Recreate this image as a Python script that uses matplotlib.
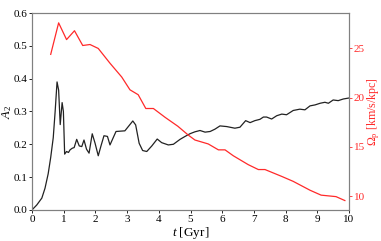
import numpy as np
import matplotlib
matplotlib.use('Agg')
import matplotlib.pyplot as plt

plt.rcParams['font.family'] = 'Liberation Serif'
plt.rcParams['mathtext.fontset'] = 'custom'
plt.rcParams['mathtext.rm'] = 'Liberation Serif'
plt.rcParams['mathtext.it'] = 'Liberation Serif:italic'
plt.rcParams['font.size'] = 8

# bar amplitude A2 vs time
t_a2 = [0.0, 0.15, 0.31, 0.41, 0.51, 0.59, 0.67, 0.73, 0.79, 0.84, 0.89, 0.95, 0.99,
        1.03, 1.09, 1.15, 1.20, 1.27, 1.33, 1.41, 1.49, 1.57, 1.64, 1.72, 1.80, 1.90,
        1.99, 2.09, 2.17, 2.27, 2.38, 2.46, 2.65, 2.93, 3.18, 3.27, 3.38, 3.49, 3.62,
        3.78, 3.95, 4.09, 4.30, 4.46, 4.67, 4.83, 4.98, 5.14, 5.30, 5.46, 5.62, 5.77,
        5.93, 6.14, 6.40, 6.56, 6.74, 6.88, 7.03, 7.19, 7.30, 7.40, 7.56, 7.72, 7.88,
        8.03, 8.24, 8.45, 8.61, 8.77, 8.93, 9.09, 9.24, 9.35, 9.50, 9.66, 9.82, 10.0]
a2 = [0.0, 0.015, 0.036, 0.066, 0.11, 0.16, 0.22, 0.30, 0.39, 0.365, 0.26, 0.327, 0.30,
      0.17, 0.178, 0.175, 0.183, 0.188, 0.19, 0.215, 0.195, 0.193, 0.213, 0.185, 0.173, 0.232,
      0.203, 0.165, 0.193, 0.226, 0.224, 0.198, 0.239, 0.241, 0.271, 0.259, 0.203, 0.181, 0.178,
      0.195, 0.216, 0.205, 0.198, 0.200, 0.215, 0.224, 0.232, 0.238, 0.242, 0.237, 0.239, 0.246,
      0.256, 0.254, 0.249, 0.252, 0.272, 0.266, 0.272, 0.276, 0.283, 0.283, 0.277, 0.287, 0.292,
      0.290, 0.303, 0.307, 0.305, 0.317, 0.320, 0.325, 0.328, 0.325, 0.335, 0.333, 0.338, 0.341]

# pattern speed
t_om = [0.59, 0.84, 1.09, 1.34, 1.60, 1.83, 2.09, 2.46, 2.83, 3.09, 3.35, 3.59, 3.83,
        4.20, 4.60, 4.93, 5.14, 5.56, 5.88, 6.09, 6.35, 6.82, 7.14, 7.35, 7.88, 8.24,
        8.77, 9.12, 9.59, 9.87]
omega = [24.4, 27.6, 25.9, 26.8, 25.3, 25.4, 25.0, 23.5, 22.1, 20.8, 20.3, 18.9, 18.9,
         18.0, 17.1, 16.2, 15.7, 15.3, 14.7, 14.7, 14.1, 13.2, 12.7, 12.7, 12.0, 11.5,
         10.6, 10.1, 9.95, 9.55]

fig = plt.figure(figsize=(3.81, 2.41), dpi=100)
ax = fig.add_axes([0.084, 0.129, 0.832, 0.817])
ax.plot(t_a2, a2, color='#222222', lw=0.9)
ax.set_xlim(0, 10)
ax.set_ylim(0, 0.6)
ax.set_xticks(range(0, 11))
ax.set_yticks(np.arange(0, 0.61, 0.1))
ax.set_xlabel('$t$ [Gyr]', fontsize=9.5)
ax.set_ylabel('$A_2$', fontsize=9)
ax.xaxis.set_label_coords(0.5, -0.075)
ax.yaxis.set_label_coords(-0.056, 0.5)

ax2 = ax.twinx()
ax2.plot(t_om, omega, color='#ff2a2a', lw=0.9)
ax2.set_ylim(8.6, 28.6)
ax2.set_yticks([10, 15, 20, 25])
ax2.set_ylabel(r'$\Omega_{\rm p}$ [km/s/kpc]', color='#ff2a2a', fontsize=8.6)
ax2.yaxis.set_label_coords(1.05, 0.5)
ax2.tick_params(axis='y', colors='#ff2a2a', length=2.5, width=0.6, pad=1)

for a in (ax, ax2):
    for s in a.spines.values():
        s.set_color('#808080')
        s.set_linewidth(0.8)
ax.tick_params(length=2.5, width=0.6, pad=1)

plt.savefig('out.png', dpi=100)
